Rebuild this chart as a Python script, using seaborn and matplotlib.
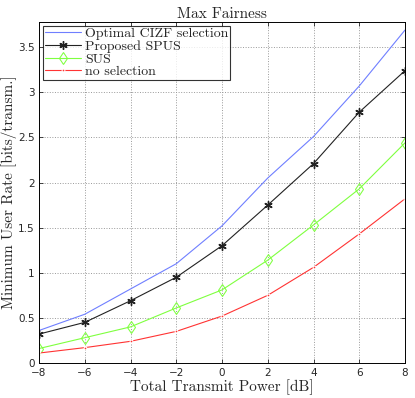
import numpy as np
import pandas as pd
import matplotlib
matplotlib.use("Agg")
import matplotlib.pyplot as plt
import seaborn as sns

power_db = [-8, -6, -4, -2, 0, 2, 4, 6, 8]
optimal_cizf = [0.36, 0.54, 0.82, 1.10, 1.52, 2.05, 2.51, 3.07, 3.69]
proposed_spus = [0.32, 0.45, 0.69, 0.95, 1.30, 1.75, 2.21, 2.78, 3.24]
sus = [0.16, 0.28, 0.40, 0.61, 0.81, 1.14, 1.53, 1.93, 2.44]
no_selection = [0.11, 0.17, 0.24, 0.35, 0.52, 0.75, 1.06, 1.43, 1.82]

series_names = ["Optimal CIZF selection", "Proposed SPUS", "SUS", "no selection"]

sns.set_style("ticks")
plt.rcParams['font.family'] = ['DejaVu Sans']

df = pd.DataFrame({
    "power": power_db * 4,
    "rate": optimal_cizf + proposed_spus + sus + no_selection,
    "method": sum([[n] * len(power_db) for n in series_names], []),
})

fig = plt.figure(figsize=(4.15, 3.98), dpi=100)
ax = fig.add_axes([0.094, 0.088, 0.882, 0.857])

styles = {
    "Optimal CIZF selection": dict(color="#6f7fff", marker=None),
    "Proposed SPUS": dict(color="#222222", marker=(6, 2, 0), markersize=6,
                          markeredgewidth=1.0,
                          markerfacecolor="#222222", markeredgecolor="#222222"),
    "SUS": dict(color="#7fff3f", marker="d", markersize=6,
                markerfacecolor="none", markeredgecolor="#7fff3f"),
    "no selection": dict(color="#ff3333", marker=".", markersize=4),
}

for name in series_names:
    sub = df[df["method"] == name]
    sns.lineplot(data=sub, x="power", y="rate", ax=ax, label=name,
                 linewidth=0.8, **styles[name])

ax.set_xlim(-8, 8)
ax.set_ylim(0, 3.78)
ax.set_xticks(power_db)
ax.set_yticks([0, 0.5, 1, 1.5, 2, 2.5, 3, 3.5])
ax.set_yticklabels(["0", "0.5", "1", "1.5", "2", "2.5", "3", "3.5"])
ax.set_xticklabels(["\u22128", "\u22126", "\u22124", "\u22122", "0", "2", "4", "6", "8"])
ax.tick_params(direction="in", labelsize=7.5, length=3, top=True, right=True, width=0.6)
ax.tick_params(axis="y", pad=3)
ax.grid(True, linestyle=":", color="#999999", linewidth=0.7)
for s in ax.spines.values():
    s.set_linewidth(0.7)
    s.set_color("black")

serif = ["cmr10", "DejaVu Serif"]
ax.set_title("Max Fairness", family=serif, fontsize=11, pad=3)
ax.set_xlabel("Total Transmit Power [dB]", family=serif, fontsize=11, labelpad=1)
ax.set_ylabel("Minimum User Rate [bits/transm.]", family=serif, fontsize=11)
ax.yaxis.set_label_coords(-0.059, 0.5)

leg = ax.legend(loc="upper left", prop={"family": serif, "size": 10},
                frameon=True, fancybox=False, edgecolor="black",
                borderpad=0.1, labelspacing=0.0, handlelength=2.6,
                handletextpad=0.3, borderaxespad=0.3)
leg.get_frame().set_linewidth(0.8)

fig.savefig("out.png", dpi=100)
